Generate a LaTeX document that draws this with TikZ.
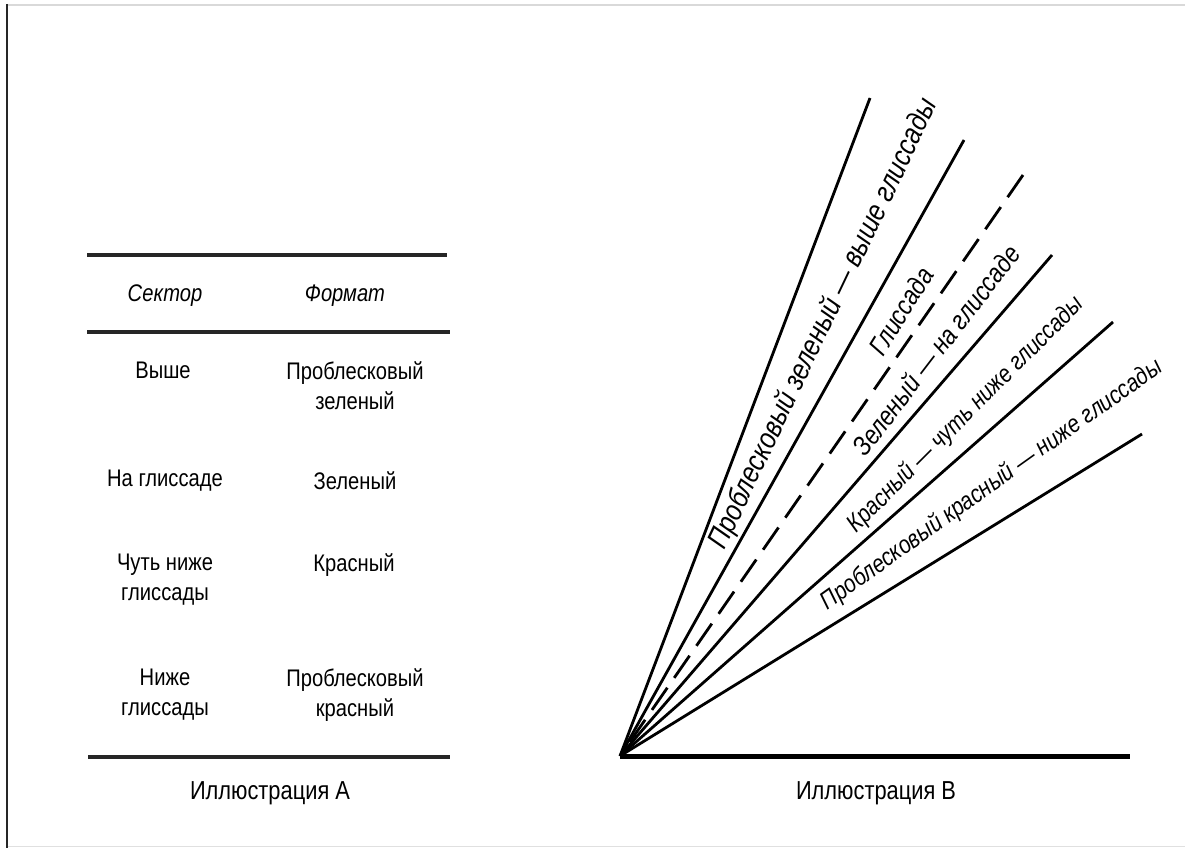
\documentclass[tikz,border=0pt]{standalone}
\usepackage{fontspec}
\setmainfont{Liberation Sans}[FakeStretch=0.84]
\begin{document}
\begin{tikzpicture}[x=1pt,y=-1pt,
  fan/.style={line width=2.8pt,black},
  rule/.style={line width=4.2pt,black!85},
  cell/.style={font=\fontsize{24}{30}\selectfont,align=center,inner sep=0pt,text=black},
  head/.style={cell,font=\fontsize{24}{30}\selectfont\itshape},
  captext/.style={font=\fontsize{26}{30}\selectfont,inner sep=0pt,text=black},
  lab/.style={inner sep=0pt,text=black}]
\useasboundingbox (0,0) rectangle (1185,848);
% frame
\draw[line width=1.2pt,black!15] (7,5) -- (1185,5);
\draw[line width=1.2pt,black!12] (7,846.5) -- (1185,846.5);
\draw[line width=2.2pt,black!85] (7,4) -- (7,848);
% table A
\coordinate (r1a) at (87,255); \coordinate (r1b) at (447,255);
\coordinate (r2a) at (87,332); \coordinate (r2b) at (450,332);
\coordinate (r3a) at (88,757); \coordinate (r3b) at (450,757);
\draw[rule] (r1a) -- (r1b);
\draw[rule] (r2a) -- (r2b);
\draw[rule] (r3a) -- (r3b);
\node[head] (hs) at (165,296) {Сектор};
\node[head] (hf) at (345,296) {Формат};
\node[cell] (s1) at (163,370) {Выше};
\node[cell] (f1) at (355,386) {Проблесковый\\зеленый};
\node[cell] (s2) at (165,481) {На глиссаде};
\node[cell] (f2) at (355,481) {Зеленый};
\node[cell] (s3) at (165,580) {Чуть ниже\\глиссады};
\node[cell] (f3) at (354,565) {Красный};
\node[cell] (s4) at (165,695) {Ниже\\глиссады};
\node[cell] (f4) at (355,695) {Проблесковый\\красный};
\node[captext] (ca) at (270,793) {Иллюстрация А};
% illustration B
\coordinate (O) at (620,756);
\coordinate (e1) at (870,98);
\coordinate (e2) at (964,140);
\coordinate (e3) at (1023,175);
\coordinate (e4) at (1052,255);
\coordinate (e5) at (1113,322);
\coordinate (e6) at (1142,434);
\coordinate (e7) at (1130,756);
\draw[fan] (O) -- (e1);
\draw[fan] (O) -- (e2);
\draw[fan,dash pattern=on 27pt off 12pt] (e3) -- (O);
\draw[fan] (O) -- (e4);
\draw[fan] (O) -- (e5);
\draw[fan] (O) -- (e6);
\draw[line width=5pt,black] (O) -- (e7);
\node[lab,font=\fontsize{29.5}{30}\selectfont\itshape,rotate=64.5] (l1) at (824,324) {Проблесковый зеленый — выше глиссады};
\node[lab,font=\fontsize{27}{30}\selectfont\itshape,rotate=58] (l2) at (901,311) {Глиссада};
\node[lab,font=\fontsize{27}{30}\selectfont\itshape,rotate=52.5] (l3) at (936,350) {Зеленый — на глиссаде};
\node[lab,font=\fontsize{25}{30}\selectfont\itshape,rotate=45] (l4) at (966,415) {Красный — чуть ниже глиссады};
\node[lab,font=\fontsize{25}{30}\selectfont\itshape,rotate=35.5] (l5) at (992,485) {Проблесковый красный — ниже глиссады};
\node[captext] (cb) at (876,793) {Иллюстрация В};
\end{tikzpicture}
\end{document}
